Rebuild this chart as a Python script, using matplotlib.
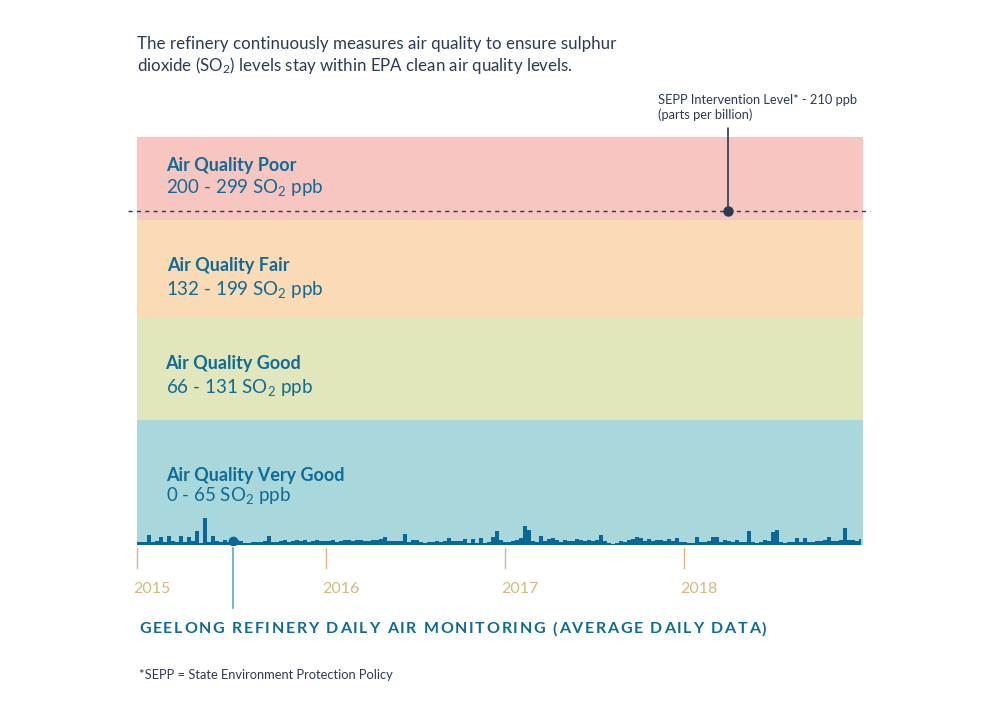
import numpy as np
import matplotlib
matplotlib.use("Agg")
import matplotlib.pyplot as plt
from matplotlib.scale import FuncScale

plt.rcParams['font.family'] = ['Lato', 'DejaVu Sans']
plt.rcParams['mathtext.fontset'] = 'custom'
plt.rcParams['mathtext.rm'] = 'Lato'
plt.rcParams['mathtext.it'] = 'Lato:italic'
plt.rcParams['mathtext.bf'] = 'Lato:bold'

# ---------------- data ----------------
# SO2 average daily readings (ppb), sampled roughly every ~8 days, 2015 -> end 2018
so2_ppb = [
    1.7, 1.6, 1.8, 5.3, 1.7, 1.9, 4.0, 1.8, 4.7, 1.9,
    1.7, 4.7, 1.8, 4.3, 2.0, 7.5, 1.0, 14.1, 1.5, 4.5,
    2.0, 1.5, 2.5, 1.5, 2.0, 2.4, 2.0, 1.3, 1.2, 1.4,
    1.5, 1.8, 2.0, 4.9, 1.6, 1.8, 2.0, 2.8, 1.7, 2.3,
    2.5, 2.0, 2.4, 1.8, 2.0, 2.5, 2.2, 1.9, 2.0, 2.8,
    1.8, 2.0, 2.4, 2.6, 2.2, 2.5, 2.4, 2.0, 2.3, 2.6,
    2.4, 3.0, 4.2, 2.2, 2.0, 2.0, 2.2, 5.8, 1.8, 2.5,
    2.8, 1.5, 1.3, 1.6, 1.8, 2.0, 1.8, 2.2, 3.5, 2.0,
    1.9, 2.2, 3.0, 1.2, 3.2, 1.3, 3.5, 1.2, 1.5, 4.3,
    7.5, 2.5, 1.4, 1.4, 2.2, 2.4, 3.5, 10.0, 7.8, 2.2,
    1.8, 4.5, 2.2, 3.2, 3.5, 2.5, 1.8, 2.5, 2.0, 2.2,
    3.0, 2.5, 2.2, 2.6, 2.2, 2.4, 5.0, 2.2, 0.8, 0.5,
    1.0, 2.0, 1.5, 2.6, 3.0, 4.3, 3.8, 2.2, 3.4, 2.0,
    2.8, 2.4, 2.0, 3.0, 2.2, 3.5, 1.5, 1.5, 1.3, 1.2,
    4.0, 1.4, 1.8, 2.0, 4.0, 4.3, 1.8, 2.5, 2.0, 1.8,
    2.5, 1.6, 1.6, 7.5, 1.5, 1.3, 1.5, 2.5, 2.2, 6.8,
    8.0, 1.5, 1.3, 1.4, 1.5, 3.5, 1.8, 3.5, 1.7, 1.8,
    2.0, 2.2, 2.5, 4.2, 2.3, 2.0, 2.8, 9.0, 2.5, 2.4,
    2.2, 3.2,
]
sample_idx = list(range(len(so2_ppb)))

year_labels = ["2015", "2016", "2017", "2018"]
year_tick_idx = [0, 47.25, 92, 136.75]

band_names = ["Air Quality Very Good", "Air Quality Good", "Air Quality Fair", "Air Quality Poor"]
band_ranges = ["0 - 65", "66 - 131", "132 - 199", "200 - 299"]
band_lo = [0, 65.5, 131.5, 199.5]
band_hi = [65.5, 131.5, 199.5, 299.5]
band_colors = ["#a8d8dc", "#e2e6bc", "#fbdab6", "#f8c6c0"]

sepp_level = 210
marker_idx = 24

# ---------------- styling ----------------
NAVY = "#2b3a55"
BLUE = "#0f6b95"
DATA = "#0b6894"
TAN = "#d6b681"
LIGHTBLUE = "#5aa6cf"

W, H = 997, 724
fig = plt.figure(figsize=(W / 100, H / 100), dpi=100)
ax = fig.add_axes([137 / W, 1 - 545 / H, 726 / W, 408 / H])

# piecewise scale: each band has its own visual height
_vals = [0, 65.5, 131.5, 199.5, 299.5, 2000]
_pos = [0, 125, 228, 325, 408, 408 + 1700.5 * 0.83]
def fwd(v):
    return np.interp(v, _vals, _pos)
def inv(p):
    return np.interp(p, _pos, _vals)
ax.set_yscale(FuncScale(ax, (fwd, inv)))
ax.set_ylim(0, 299.5)
ax.set_xlim(0, 181.5)
ax.set_axis_off()

for lo, hi, c in zip(band_lo, band_hi, band_colors):
    ax.axhspan(lo, hi, color=c, lw=0, zorder=0)

ax.fill_between(sample_idx, 0, so2_ppb, step='mid', color=DATA, lw=0, zorder=2)

# marker dome
ax.plot([marker_idx], [2.0], 'o', color=DATA, ms=6, zorder=3)
# light-blue pointer to chart title
ax.plot([marker_idx, marker_idx], [-0.007, -0.155], color=LIGHTBLUE, lw=1.2,
        transform=ax.get_xaxis_transform(), clip_on=False)

# dashed SEPP line
ax.plot([-2.25, 183.25], [sepp_level, sepp_level], color=NAVY, lw=1.0,
        ls=(0, (3, 3)), clip_on=False, zorder=3)
x_sepp = 147.75
ax.annotate('', xy=(x_sepp, sepp_level), xycoords='data',
            xytext=(x_sepp, 1.022), textcoords=ax.get_xaxis_transform(),
            arrowprops=dict(arrowstyle='-', color=NAVY, lw=1.2, shrinkA=0, shrinkB=0),
            annotation_clip=False)
ax.plot([x_sepp], [sepp_level], 'o', color=NAVY, ms=6.5, zorder=4, clip_on=False)

# year ticks
for xt, lab in zip(year_tick_idx, year_labels):
    ax.plot([xt, xt], [-0.008, -0.056], color=TAN, lw=1.0,
            transform=ax.get_xaxis_transform(), clip_on=False)
    ax.text(xt - 1.0, -0.108, lab, transform=ax.get_xaxis_transform(),
            ha='left', va='center', fontsize=11.5, color=TAN)

def ftext(x, y, s, **kw):
    return fig.text(x / W, 1 - y / H, s, **kw)

# band labels
name_pos = [(166, 475), (165, 363), (167, 265), (166, 166)]
range_pos = [(166, 496), (166, 388), (166, 290), (166, 187)]
for nm, rg, (nx, ny), (rx, ry) in zip(band_names, band_ranges, name_pos, range_pos):
    ftext(nx, ny, nm, fontsize=13, fontweight='bold', color=BLUE, va='center', ha='left')
    ftext(rx, ry, rg + r" SO$_2$ ppb", fontsize=13.5, color=BLUE, va='center', ha='left')

# intro text
ftext(137, 44, "The refinery continuously measures air quality to ensure sulphur",
      fontsize=12.2, color=NAVY, va='center', ha='left')
ftext(137, 66, r"dioxide (SO$_2$) levels stay within EPA clean air quality levels.",
      fontsize=12.2, color=NAVY, va='center', ha='left')

# SEPP annotation
ftext(658, 100, "SEPP Intervention Level* - 210 ppb", fontsize=9.3, color=NAVY, va='center', ha='left')
ftext(658, 115, "(parts per billion)", fontsize=9.3, color=NAVY, va='center', ha='left')

# bottom title, letter-spaced to match width
title = "GEELONG REFINERY DAILY AIR MONITORING (AVERAGE DAILY DATA)"
renderer = fig.canvas.get_renderer()
tprops = dict(fontsize=11.5, fontweight='bold', color=BLUE, va='center', ha='left')
def char_w(ch):
    if ch == ' ':
        a = ftext(0, 0, "A A", **tprops); b = ftext(0, 0, "AA", **tprops)
        w = a.get_window_extent(renderer).width - b.get_window_extent(renderer).width
        a.remove(); b.remove()
        return w
    t = ftext(0, 0, ch, **tprops)
    w = t.get_window_extent(renderer).width
    t.remove()
    return w
widths = [char_w(c) for c in title]
target = 766 - 139
spacing = (target - sum(widths)) / (len(title) - 1)
xc = 139
for c, w in zip(title, widths):
    if c != ' ':
        ftext(xc, 629, c, **tprops)
    xc += w + spacing

# footnote
ftext(139, 675, "*SEPP = State Environment Protection Policy", fontsize=9.3, color=NAVY,
      va='center', ha='left')

fig.savefig("out.png", dpi=100, facecolor='white')
